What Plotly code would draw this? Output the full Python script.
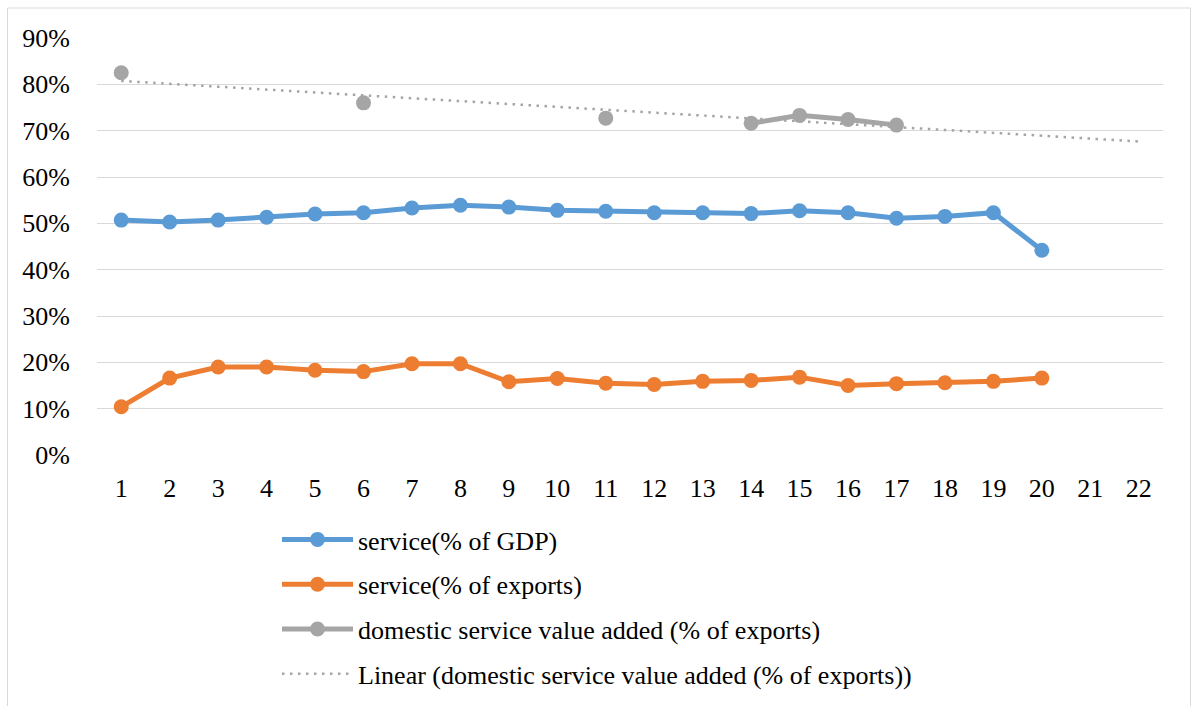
import numpy as np
import plotly.graph_objects as go

# Category positions 1..22
categories = list(range(1, 23))

# Series values (%), None = no observation
service_gdp = [50.7, 50.3, 50.7, 51.3, 52.0, 52.3, 53.3, 53.9, 53.5, 52.8,
               52.6, 52.3, 52.3, 52.1, 52.7, 52.3, 51.1, 51.5, 52.3, 44.2,
               None, None]
service_exports = [10.4, 16.6, 19.0, 19.0, 18.3, 18.0, 19.7, 19.7, 15.8, 16.5,
                   15.5, 15.2, 15.9, 16.1, 16.8, 15.0, 15.4, 15.6, 15.9, 16.6,
                   None, None]
domestic_va = [82.5, None, None, None, None, 76.0, None, None, None, None,
               72.7, None, None, 71.6, 73.3, 72.4, 71.2, None, None, None,
               None, None]

y_ticks = list(range(0, 91, 10))
y_tick_labels = [f"{v}%" for v in y_ticks]

BLUE = "#5B9BD5"
ORANGE = "#ED7D31"
GRAY = "#A5A5A5"
FONT = "'Liberation Serif', 'Times New Roman', Tinos, serif"
FS = 26

# Least-squares trendline over the observed domestic value-added points
obs_x = np.array([c for c, v in zip(categories, domestic_va) if v is not None], dtype=float)
obs_y = np.array([v for v in domestic_va if v is not None], dtype=float)
slope, intercept = np.polyfit(obs_x, obs_y, 1)
trend_y = [slope * c + intercept for c in categories]

fig = go.Figure()

def add_series(values, name, color, group):
    fig.add_trace(go.Scatter(
        x=categories, y=values, name=name, mode="lines+markers",
        line=dict(color=color, width=5),
        marker=dict(color=color, size=15),
        connectgaps=False, legendgroup=group,
    ))

add_series(service_gdp, "service(% of GDP)", BLUE, "g1")
add_series(service_exports, "service(% of exports)", ORANGE, "g2")
add_series(domestic_va, "domestic service value added (% of exports)", GRAY, "g3")

fig.add_trace(go.Scatter(
    x=categories, y=trend_y, mode="lines",
    name="Linear (domestic service value added (% of exports))",
    line=dict(color=GRAY, width=2.5, dash="2.5px,5.5px"),
    legendgroup="g4",
))

fig.update_layout(
    width=1192, height=706,
    margin=dict(l=97, r=29, t=38, b=251),
    paper_bgcolor="white", plot_bgcolor="white",
    font=dict(family=FONT, size=FS, color="#000000"),
    xaxis=dict(
        range=[0.5, 22.5], tickmode="array", tickvals=categories,
        ticktext=[str(c) for c in categories],
        showgrid=False, zeroline=False, showline=False, ticks="",
        ticklabelstandoff=15, automargin=False,
        tickfont=dict(family=FONT, size=FS, color="#000"),
    ),
    yaxis=dict(
        range=[0, 90], tickmode="array", tickvals=y_ticks, ticktext=y_tick_labels,
        showgrid=True, gridcolor="#D9D9D9", gridwidth=1,
        zeroline=False, showline=False, ticks="",
        ticklabelstandoff=26, automargin=False,
        tickfont=dict(family=FONT, size=FS, color="#000"),
    ),
    legend=dict(
        xref="paper", yref="container",
        x=(277 - 97) / 1066, y=1 - 516 / 706, xanchor="left", yanchor="top",
        orientation="v", traceorder="grouped", tracegroupgap=8,
        itemwidth=71, bgcolor="rgba(0,0,0,0)",
        font=dict(family=FONT, size=FS, color="#000"),
    ),
    shapes=[dict(
        type="rect", xref="paper", yref="paper",
        x0=(7.5 - 97) / 1066, x1=(1190.5 - 97) / 1066,
        y0=(455 - 720) / 417, y1=(455 - 8) / 417,
        line=dict(color="#D9D9D9", width=1), fillcolor="rgba(0,0,0,0)",
        layer="below",
    )],
    showlegend=True,
)

fig.write_html("out.html")
